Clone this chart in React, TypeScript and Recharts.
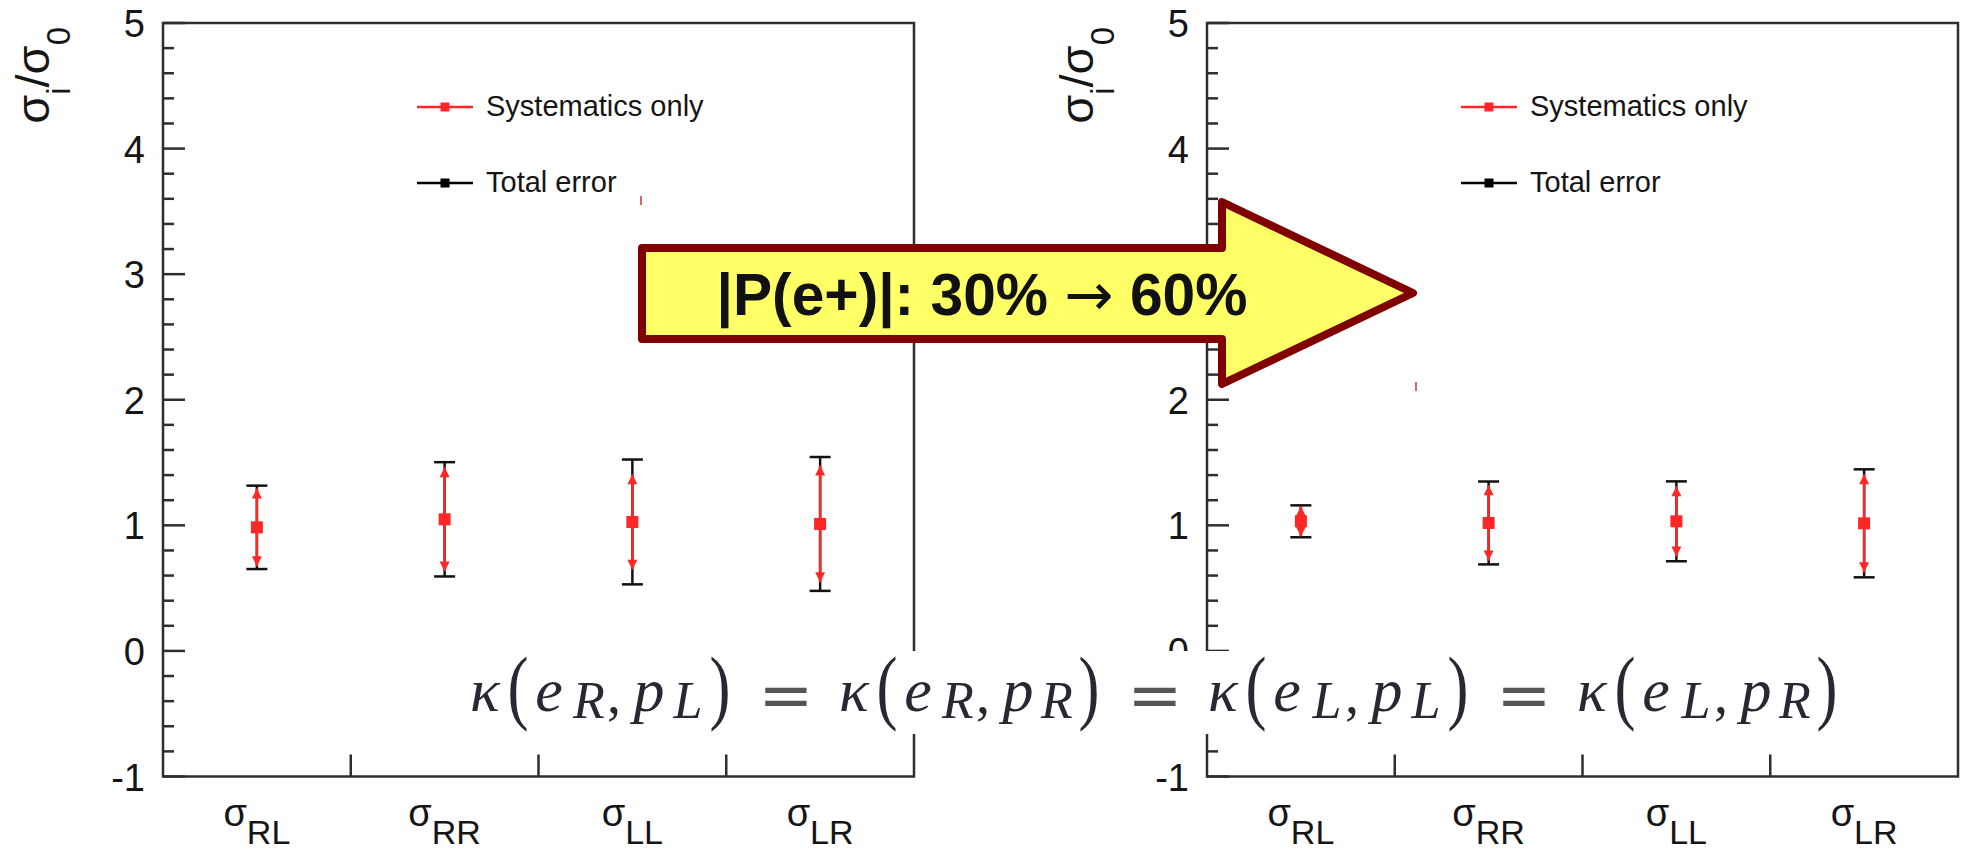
import React from 'react';
import { ScatterChart, Scatter, XAxis, YAxis, ErrorBar, ReferenceArea, Legend } from 'recharts';

// ---------- data ----------
const categories = ['RL', 'RR', 'LL', 'LR'];
const categoryX = [0.5, 1.5, 2.5, 3.5];
const binEdges = [1, 2, 3];

// |P(e+)| = 30 %
const central30 = [0.984, 1.048, 1.027, 1.011];
const totalErr30 = [0.332, 0.455, 0.497, 0.533];
const sysErr30 = [0.31, 0.415, 0.38, 0.465];

// |P(e+)| = 60 %
const central60 = [1.032, 1.019, 1.032, 1.016];
const totalErr60 = [0.127, 0.33, 0.318, 0.43];
const sysErr60 = [0.12, 0.3, 0.28, 0.39];

const yMajorTicks = [-1, 0, 1, 2, 3, 4, 5];
const yMinorPerMajor = 5;

const legendLabels = ['Systematics only', 'Total error'];
const formulaTerms = [
  ['R', 'L'],
  ['R', 'R'],
  ['L', 'L'],
  ['L', 'R'],
];

// ---------- styling ----------
const RED = '#ff2626';
const INK = '#151515';
const FRAME = '#2e2e2e';
const SANS = '"Liberation Sans", Arial, sans-serif';
const SERIF = '"Liberation Serif", "DejaVu Serif", "Times New Roman", Times, serif';

const CHART_W = 921;
const CHART_H = 852;
const MARGIN = { top: 23, right: 7, bottom: 15.5, left: 83 };
const Y_AXIS_W = 80;
const X_AXIS_H = 60;
const PANEL_LEFTS = [0, 1044];

const yTicks: number[] = [];
for (let i = 0; i < yMajorTicks.length - 1; i++) {
  for (let k = 0; k < yMinorPerMajor; k++) {
    yTicks.push(Math.round((yMajorTicks[i] + k / yMinorPerMajor) * 100) / 100);
  }
}
yTicks.push(yMajorTicks[yMajorTicks.length - 1]);

const xTicks = [...categoryX, ...binEdges].sort((a, b) => a - b);

// ---------- axis ticks ----------
const YTick = (props: any) => {
  const { x, y, payload } = props;
  const v = payload.value;
  const major = yMajorTicks.includes(v);
  return (
    <g>
      <line x1={x} x2={x + (major ? 22 : 11)} y1={y} y2={y} stroke={FRAME} strokeWidth={2.5} />
      {major && (
        <text x={x - 18} y={y + 14} textAnchor="end" fontSize={38} fill={INK} fontFamily={SANS}>
          {v}
        </text>
      )}
    </g>
  );
};

const XTick = (props: any) => {
  const { x, y, payload } = props;
  const v = payload.value;
  if (binEdges.includes(v)) {
    return <line x1={x} x2={x} y1={y} y2={y - 22} stroke={FRAME} strokeWidth={2.5} />;
  }
  const i = categoryX.indexOf(v);
  return (
    <text x={x} y={y + 49} textAnchor="middle" fontSize={38} fill={INK} fontFamily={SANS}>
      σ
      <tspan fontSize={34} dy={18}>
        {categories[i]}
      </tspan>
    </text>
  );
};

const YTitle = (props: any) => {
  const vb = props.viewBox || { x: MARGIN.left, y: MARGIN.top, width: Y_AXIS_W };
  const bx = vb.x + vb.width - 114;
  const by = vb.y + 4;
  return (
    <text
      transform={`translate(${bx},${by}) rotate(-90)`}
      textAnchor="end"
      fontSize={47}
      fill={INK}
      fontFamily={SANS}
    >
      σ
      <tspan fontSize={33} dy={21}>
        i
      </tspan>
      <tspan dy={-21}>/σ</tspan>
      <tspan fontSize={33} dy={21}>
        0
      </tspan>
    </text>
  );
};

const legendColors = [RED, '#000'];
const LegendBox = () => (
  <svg width={330} height={130} style={{ overflow: 'visible' }}>
    {legendLabels.map((label, i) => {
      const cy = 27 + i * 76;
      return (
        <g key={label}>
          <line x1={7} x2={63} y1={cy} y2={cy} stroke={legendColors[i]} strokeWidth={2.5} />
          <rect x={30.5} y={cy - 4.5} width={9} height={9} fill={legendColors[i]} />
          <text x={76} y={cy + 9} fontSize={29} fill={INK} fontFamily={SANS}>
            {label}
          </text>
        </g>
      );
    })}
  </svg>
);

// ---------- markers ----------
const redSquare = (p: any) => <rect x={p.cx - 6} y={p.cy - 6} width={12} height={12} fill={RED} />;
const blackSquare = (p: any) => <rect x={p.cx - 4} y={p.cy - 4} width={8} height={8} fill="#000" />;
const arrowUp = (p: any) => (
  <polygon points={`${p.cx},${p.cy} ${p.cx - 5},${p.cy + 10} ${p.cx + 5},${p.cy + 10}`} fill={RED} />
);
const arrowDown = (p: any) => (
  <polygon points={`${p.cx},${p.cy} ${p.cx - 5},${p.cy - 10} ${p.cx + 5},${p.cy - 10}`} fill={RED} />
);

type PanelProps = { left: number; central: number[]; totalErr: number[]; sysErr: number[] };

function Panel({ left, central, totalErr, sysErr }: PanelProps) {
  const points = categoryX.map((x, i) => ({ x, y: central[i], total: totalErr[i], sys: sysErr[i] }));
  const upTips = categoryX.map((x, i) => ({ x, y: central[i] + sysErr[i] }));
  const downTips = categoryX.map((x, i) => ({ x, y: central[i] - sysErr[i] }));
  return (
    <div style={{ position: 'absolute', left, top: 0 }}>
      <ScatterChart width={CHART_W} height={CHART_H} margin={MARGIN}>
        <XAxis
          type="number"
          dataKey="x"
          domain={[0, 4]}
          ticks={xTicks}
          interval={0}
          tickSize={0}
          tickMargin={0}
          height={X_AXIS_H}
          axisLine={false}
          tickLine={false}
          tick={XTick}
          allowDataOverflow
        />
        <YAxis
          type="number"
          dataKey="y"
          domain={[-1, 5]}
          ticks={yTicks}
          interval={0}
          tickSize={0}
          tickMargin={0}
          width={Y_AXIS_W}
          axisLine={false}
          tickLine={false}
          tick={YTick}
          allowDataOverflow
          label={{ content: YTitle }}
        />
        <ReferenceArea x1={0} x2={4} y1={-1} y2={5} fill="none" fillOpacity={0} stroke={FRAME} strokeWidth={2.5} />
        <Legend
          content={LegendBox}
          layout="horizontal"
          verticalAlign="middle"
          align="center"
          wrapperStyle={{ position: 'absolute', left: 410, top: 80, width: 330, height: 130 }}
        />
        <Scatter name="Total error" data={points} shape={blackSquare} fill="#000" isAnimationActive={false}>
          <ErrorBar dataKey="total" direction="y" width={10.5} stroke="#111" strokeWidth={2.5} isAnimationActive={false} />
        </Scatter>
        <Scatter name="Systematics only" data={points} shape={redSquare} fill={RED} isAnimationActive={false}>
          <ErrorBar dataKey="sys" direction="y" width={0} stroke={RED} strokeWidth={2.5} isAnimationActive={false} />
        </Scatter>
        <Scatter data={upTips} shape={arrowUp} legendType="none" isAnimationActive={false} />
        <Scatter data={downTips} shape={arrowDown} legendType="none" isAnimationActive={false} />
      </ScatterChart>
    </div>
  );
}

// ---------- formula: κ(e_a, p_b) = ... ----------
const F_START = 466;
const F_PERIOD = 369;
const F_BASE = 711;
const glyphOffset = { kappa: 19, open: 52, e: 83, subE: 123, comma: 148, p: 183, subP: 222, close: 254, eq: 320 };

function Paren({ x, ch }: { x: number; ch: string }) {
  // tall, thin delimiters: stretched vertically rather than enlarged
  return (
    <text
      transform={`translate(${x},${F_BASE + 3}) scale(1,1.3)`}
      textAnchor="middle"
      fontFamily={SERIF}
      fontSize={63}
    >
      {ch}
    </text>
  );
}

function Formula() {
  const ink = '#2a2733';
  const italic = { fontFamily: SERIF, fontStyle: 'italic' as const };
  return (
    <g fill={ink}>
      {formulaTerms.map(([a, b], g) => {
        const x0 = F_START + g * F_PERIOD;
        return (
          <g key={g}>
            <text x={x0 + glyphOffset.kappa} y={F_BASE} textAnchor="middle" style={italic} fontSize={62}>κ</text>
            <Paren x={x0 + glyphOffset.open} ch="(" />
            <text x={x0 + glyphOffset.e} y={F_BASE} textAnchor="middle" style={italic} fontSize={62}>e</text>
            <text x={x0 + glyphOffset.subE} y={F_BASE + 7} textAnchor="middle" style={italic} fontSize={52}>{a}</text>
            <text x={x0 + glyphOffset.comma} y={F_BASE + 2} textAnchor="middle" style={{ fontFamily: SERIF }} fontSize={56}>,</text>
            <text x={x0 + glyphOffset.p} y={F_BASE} textAnchor="middle" style={italic} fontSize={62}>p</text>
            <text x={x0 + glyphOffset.subP} y={F_BASE + 7} textAnchor="middle" style={italic} fontSize={52}>{b}</text>
            <Paren x={x0 + glyphOffset.close} ch=")" />
            {g < formulaTerms.length - 1 && (
              <text x={x0 + glyphOffset.eq} y={F_BASE + 6} textAnchor="middle" style={{ fontFamily: '"DejaVu Serif", serif' }} fontSize={66} fill="#555">=</text>
            )}
          </g>
        );
      })}
    </g>
  );
}

function Overlay() {
  return (
    <svg width={1965} height={852} style={{ position: 'absolute', left: 0, top: 0, pointerEvents: 'none' }}>
      <rect x={455} y={651} width={1395} height={83} fill="#fff" />
      <Formula />
      <polygon
        points="642,248 1222,248 1222,202 1413,293 1222,384 1222,339 642,339"
        fill="#ffff66"
        stroke="#800000"
        strokeWidth={8}
        strokeLinejoin="round"
      />
      <text
        x={982}
        y={315}
        textAnchor="middle"
        fontFamily={SANS}
        fontWeight="bold"
        fontSize={59}
        fill="#111"
        textLength={531}
        lengthAdjust="spacingAndGlyphs"
      >
        |P(e+)|: 30%{' '}
        <tspan fontWeight="normal" fontFamily='"DejaVu Sans", sans-serif'>
          →
        </tspan>{' '}
        60%
      </text>
      <line x1={641} x2={641} y1={196} y2={205} stroke="#c00000" strokeWidth={1.2} />
      <line x1={1416} x2={1416} y1={382} y2={391} stroke="#c00000" strokeWidth={1.2} />
    </svg>
  );
}

export default function App() {
  return (
    <div
      style={{
        position: 'absolute',
        left: 0,
        top: 0,
        width: 1965,
        height: 852,
        overflow: 'hidden',
        background: '#fff',
        fontFamily: SANS,
      }}
    >
      <Panel left={PANEL_LEFTS[0]} central={central30} totalErr={totalErr30} sysErr={sysErr30} />
      <Panel left={PANEL_LEFTS[1]} central={central60} totalErr={totalErr60} sysErr={sysErr60} />
      <Overlay />
    </div>
  );
}
